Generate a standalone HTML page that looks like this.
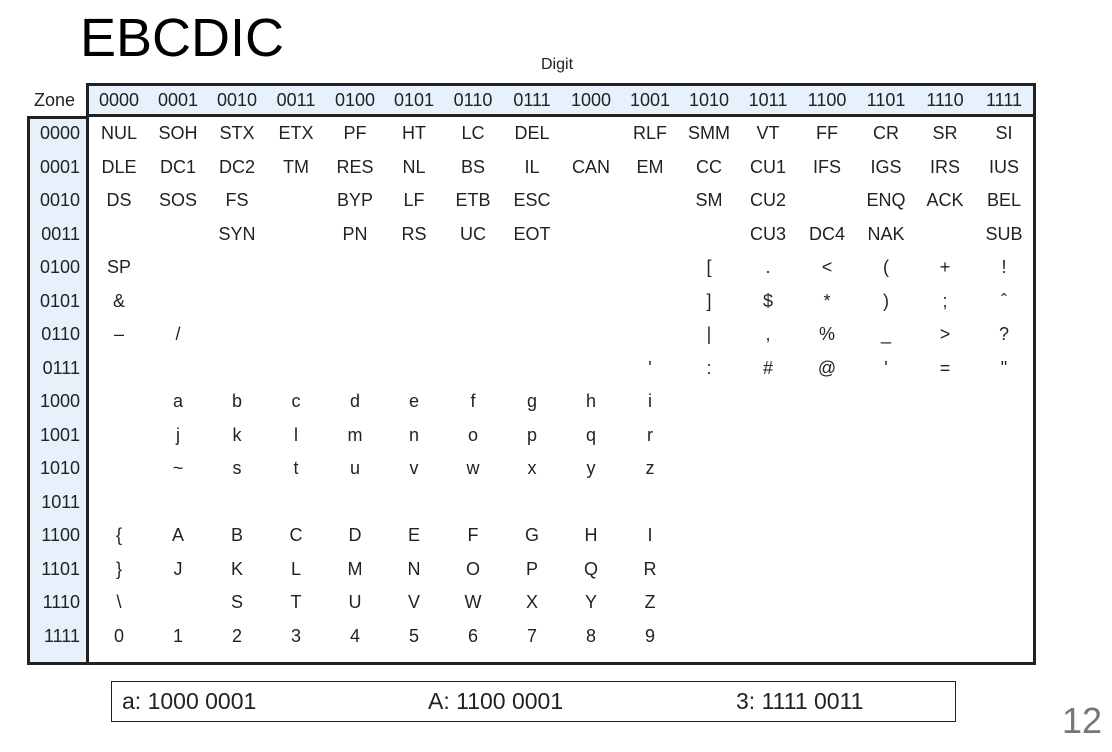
<!DOCTYPE html>
<html><head><meta charset="utf-8">
<style>
body{margin:0;width:1112px;height:752px;background:#fff;position:relative;overflow:hidden;font-family:"Liberation Sans",sans-serif;color:#222}
.a{position:absolute}
.c{position:absolute;width:59px;text-align:center;font-size:18px;line-height:20px;transform:translateX(-50%)}
</style></head><body>
<div class="a" style="left:80px;top:7px;font-size:54px;line-height:62px;color:#000">EBCDIC</div>
<div class="a" style="left:541px;top:56px;font-size:16px">Digit</div>
<div class="a" style="left:34px;top:90px;font-size:18px">Zone</div>
<div class="a" style="left:86px;top:83px;width:944px;height:31px;border:3px solid #222;border-bottom:none;background:#e6f1fb"></div>
<div class="a" style="left:27px;top:116px;width:56px;height:543px;border:3px solid #222;border-right:none;background:#e6f1fb"></div>
<div class="a" style="left:86px;top:114px;width:944px;height:545px;border:3px solid #222"></div>
<div id="g"></div>
<div class="a" style="left:111px;top:681px;width:843px;height:39px;border:1.5px solid #222;font-size:23px">
<span class="a" style="left:10px;top:6px">a: 1000 0001</span>
<span class="a" style="left:316px;top:6px">A: 1100 0001</span>
<span class="a" style="left:624px;top:6px">3: 1111 0011</span>
</div>
<div class="a" style="left:1062px;top:700px;font-size:36px;color:#777">12</div>
<script>
const codes=["0000","0001","0010","0011","0100","0101","0110","0111","1000","1001","1010","1011","1100","1101","1110","1111"];
const r0=["NUL","SOH","STX","ETX","PF","HT","LC","DEL","","RLF","SMM","VT","FF","CR","SR","SI"];
const r1=["DLE","DC1","DC2","TM","RES","NL","BS","IL","CAN","EM","CC","CU1","IFS","IGS","IRS","IUS"];
const r2=["DS","SOS","FS","","BYP","LF","ETB","ESC","","","SM","CU2","","ENQ","ACK","BEL"];
const r3=["","","SYN","","PN","RS","UC","EOT","","","","CU3","DC4","NAK","","SUB"];
const r4=["SP","","","","","","","","","","[",".","<","(","+","!"];
const r5=["&","","","","","","","","","","]","$","*",")",";","ˆ"];
const r6=["–","/","","","","","","","","","|",",","%","_",">","?"];
const r7=["","","","","","","","","","'",":","#","@","'","=","\""];
const r8=["","a","b","c","d","e","f","g","h","i","","","","","",""];
const r9=["","j","k","l","m","n","o","p","q","r","","","","","",""];
const r10=["","~","s","t","u","v","w","x","y","z","","","","","",""];
const r11=["","","","","","","","","","","","","","","",""];
const r12=["{","A","B","C","D","E","F","G","H","I","","","","","",""];
const r13=["}","J","K","L","M","N","O","P","Q","R","","","","","",""];
const r14=["\\","","S","T","U","V","W","X","Y","Z","","","","","",""];
const r15=["0","1","2","3","4","5","6","7","8","9","","","","","",""];
const rows=[r0,r1,r2,r3,r4,r5,r6,r7,r8,r9,r10,r11,r12,r13,r14,r15];
const g=document.getElementById('g');
const colX=j=>119+j*59, rowY=i=>123+i*33.5;
function mk(txt,x,y,name){const d=document.createElement('div');d.className='c';d.textContent=txt;d.style.left=x+'px';d.style.top=y+'px';


g.appendChild(d);}
codes.forEach((c,j)=>mk(c,colX(j),90,'digit-header-'+c));
codes.forEach((c,i)=>{const d=document.createElement('div');d.className='a';d.textContent=c;d.style.cssText='right:1032px;top:'+rowY(i)+'px;font-size:18px;line-height:20px';


g.appendChild(d);});
rows.forEach((r,i)=>r.forEach((t,j)=>{if(t)mk(t,colX(j),rowY(i),'cell-'+codes[i]+'-'+codes[j]);}));
</script>
</body></html>
